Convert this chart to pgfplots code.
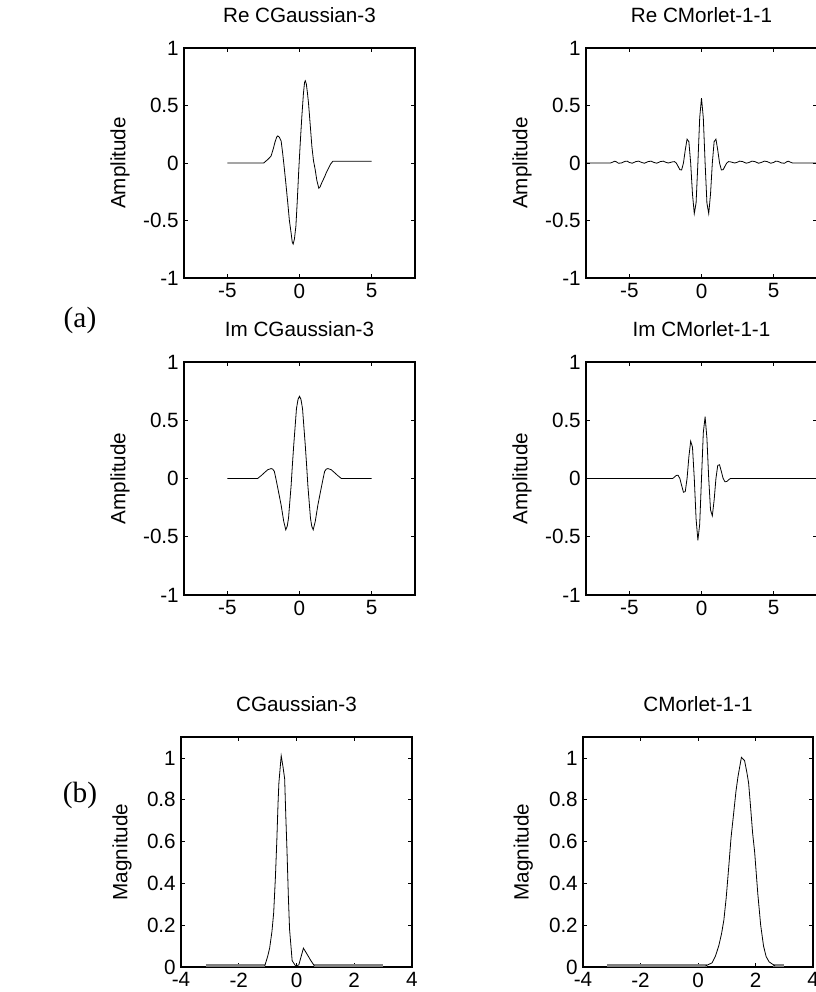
\documentclass[border=0pt]{standalone}
\usepackage{fontspec}
\setmainfont{Liberation Sans}
\newfontfamily\timesfont{Liberation Serif}
\usepackage{pgfplots}
\pgfplotsset{compat=1.18}

\pgfplotsset{
  mystyle/.style={
    scale only axis, width=173.25pt, height=172.5pt,
    axis line style={line width=0.8pt},
    every tick/.style={black, line width=0.6pt},
    major tick length=3pt,
    tick align=inside, tick pos=both,
    /pgf/number format/assume math mode=true,
    yticklabel style={inner sep=0pt, anchor=east, xshift=-3.75pt},
    xticklabel style={inner sep=0pt, anchor=north, yshift=-4pt},
    title style={at={(0.5,1)}, anchor=base, yshift=12.75pt, inner sep=0pt},
  },
  wave/.style={mystyle, xmin=-8, xmax=8, ymin=-1, ymax=1,
    xtick={-5,0,5}, xticklabels={-5,0,5},
    ytick={-1,-0.5,0,0.5,1}, yticklabels={-1,-0.5,0,0.5,1},
    ylabel={Amplitude},
    ylabel style={at={(axis description cs:-0.277,0.5)}, anchor=center}},
  mag/.style={mystyle, xmin=-4, xmax=4, ymin=0, ymax=1.1,
    xtick={-4,-2,0,2,4}, xticklabels={-4,-2,0,2,4},
    ytick={0,0.2,0.4,0.6,0.8,1}, yticklabels={0,0.2,0.4,0.6,0.8,1},
    ylabel={Magnitude}},
  curve/.style={black, no marks, line width=0.6pt},
  base/.style={gray, no marks, line width=1.6pt},
}

\begin{document}
\fontsize{15.5}{18}\selectfont
\begin{tikzpicture}[font=\fontsize{15.5}{18}\selectfont]
\path[use as bounding box] (0,0) rectangle (612pt,744pt);

% (a) Re CGaussian-3
\begin{axis}[wave, at={(138pt,535.5pt)}, anchor=south west, height=172.5pt, title={Re CGaussian-3}]
\addplot[curve] coordinates {(-5,0) (-2.48,0) (-2.2,0.03) (-1.97,0.06) (-1.8,0.13) (-1.69,0.185) (-1.58,0.225) (-1.5,0.235) (-1.4,0.225) (-1.27,0.19) (-1.18,0.1) (-1.09,0) (-0.95,-0.17) (-0.81,-0.35) (-0.7,-0.5) (-0.58,-0.61) (-0.5,-0.69) (-0.44,-0.705) (-0.35,-0.66) (-0.25,-0.55) (-0.15,-0.32) (-0.05,-0.06) (0.05,0.17) (0.16,0.40) (0.27,0.6) (0.35,0.7) (0.4,0.715) (0.47,0.69) (0.55,0.61) (0.625,0.52) (0.75,0.32) (0.86,0.14) (0.97,0.02) (1.09,-0.06) (1.2,-0.15) (1.34,-0.22) (1.42,-0.21) (1.55,-0.17) (1.74,-0.12) (1.87,-0.08) (2.01,-0.046) (2.15,-0.01) (2.31,0.015) (5,0.015)};
\end{axis}

% Re CMorlet-1-1
\begin{axis}[wave, at={(439.5pt,535.5pt)}, anchor=south west, height=172.5pt, title={Re CMorlet-1-1}]
\addplot[curve] coordinates {(-8,0) (-6.3,0) (-6.1,0.01) (-6.0,0.016) (-5.9,0.01) (-5.75,-0.002) (-5.55,0) (-5.3,0.014) (-5.15,0.016) (-5.0,0.005) (-4.8,-0.002) (-4.55,0.012) (-4.35,0.016) (-4.15,0.005) (-3.95,-0.002) (-3.7,0.012) (-3.5,0.016) (-3.3,0.005) (-3.1,-0.002) (-2.85,0.012) (-2.65,0.016) (-2.45,0.005) (-2.3,0) (-2,0.01) (-1.875,0.012) (-1.75,0) (-1.625,-0.028) (-1.5,-0.059) (-1.375,-0.06) (-1.25,0) (-1.125,0.1125) (-1,0.2076) (-0.875,0.185) (-0.75,0) (-0.625,-0.27) (-0.5,-0.44) (-0.375,-0.347) (-0.25,0) (-0.125,0.393) (0,0.564) (0.125,0.393) (0.25,0) (0.375,-0.347) (0.5,-0.44) (0.625,-0.27) (0.75,0) (0.875,0.185) (1,0.2076) (1.125,0.1125) (1.25,0) (1.375,-0.06) (1.5,-0.059) (1.625,-0.028) (1.75,0) (1.875,0.012) (2,0.01) (2.3,0) (2.45,0.005) (2.65,0.016) (2.85,0.012) (3.1,-0.002) (3.3,0.005) (3.5,0.016) (3.7,0.012) (3.95,-0.002) (4.15,0.005) (4.35,0.016) (4.55,0.012) (4.8,-0.002) (5.0,0.005) (5.15,0.016) (5.3,0.014) (5.55,0) (5.75,-0.002) (5.9,0.01) (6.0,0.016) (6.1,0.01) (6.3,0) (8,0)};
\end{axis}

% Im CGaussian-3
\begin{axis}[wave, at={(138pt,297.75pt)}, anchor=south west, height=174.75pt, title={Im CGaussian-3}]
\addplot[curve] coordinates {(-5,0) (-2.9,0) (-2.65,0.025) (-2.43,0.05) (-2.2,0.075) (-1.97,0.085) (-1.85,0.08) (-1.74,0.06) (-1.62,-0.01) (-1.5,-0.085) (-1.38,-0.16) (-1.27,-0.23) (-1.09,-0.37) (-0.95,-0.44) (-0.85,-0.41) (-0.76,-0.34) (-0.67,-0.2) (-0.58,-0.06) (-0.49,0.12) (-0.4,0.285) (-0.3,0.45) (-0.21,0.6) (-0.1,0.68) (0,0.705) (0.1,0.68) (0.21,0.6) (0.3,0.45) (0.4,0.285) (0.49,0.12) (0.58,-0.06) (0.67,-0.2) (0.76,-0.34) (0.85,-0.41) (0.95,-0.44) (1.09,-0.37) (1.27,-0.23) (1.38,-0.16) (1.5,-0.085) (1.62,-0.01) (1.74,0.06) (1.85,0.08) (1.97,0.085) (2.2,0.075) (2.43,0.05) (2.65,0.025) (2.9,0) (5,0)};
\end{axis}

% Im CMorlet-1-1
\begin{axis}[wave, at={(439.5pt,297.75pt)}, anchor=south west, height=174.75pt, title={Im CMorlet-1-1}]
\addplot[curve] coordinates {(-8,0) (-2.125,0) (-2,0) (-1.875,0.012) (-1.75,0.026) (-1.625,0.028) (-1.5,0) (-1.375,-0.06) (-1.25,-0.118) (-1.125,-0.1125) (-1,0) (-0.875,0.185) (-0.75,0.32) (-0.625,0.27) (-0.5,0) (-0.375,-0.347) (-0.25,-0.53) (-0.125,-0.393) (0,0) (0.125,0.393) (0.25,0.53) (0.375,0.347) (0.5,0) (0.625,-0.27) (0.75,-0.32) (0.875,-0.185) (1,0) (1.125,0.1125) (1.25,0.118) (1.375,0.06) (1.5,0) (1.625,-0.028) (1.75,-0.026) (1.875,-0.012) (2,0) (8,0)};
\end{axis}

% (b) CGaussian-3 magnitude
\begin{axis}[mag, at={(135.75pt,18.75pt)}, anchor=south west, title={CGaussian-3},
  ylabel style={at={(axis description cs:-0.255,0.5)}, anchor=center}]
\addplot[base] coordinates {(-3.14,0.007) (-1.1,0.007)};
\addplot[base] coordinates {(0.62,0.007) (2.98,0.007)};
\addplot[curve] coordinates {(-1.1,0.005) (-1.0,0.05) (-0.93,0.09) (-0.85,0.17) (-0.79,0.26) (-0.73,0.43) (-0.68,0.61) (-0.64,0.78) (-0.61,0.88) (-0.53,1.01) (-0.47,0.96) (-0.41,0.9) (-0.37,0.72) (-0.33,0.56) (-0.28,0.33) (-0.24,0.18) (-0.15,0.03) (-0.03,0.005) (0.08,0.01) (0.24,0.09) (0.35,0.065) (0.5,0.03) (0.62,0.005)};
\end{axis}

% CMorlet-1-1 magnitude
\begin{axis}[mag, at={(437.25pt,18.75pt)}, anchor=south west, width=172.5pt, title={CMorlet-1-1},
  ylabel style={at={(axis description cs:-0.26,0.5)}, anchor=center}]
\addplot[base] coordinates {(-3.17,0.007) (0.3,0.007)};
\addplot[base] coordinates {(2.6,0.007) (2.98,0.007)};
\addplot[curve] coordinates {(0.26,0.005) (0.49,0.02) (0.6,0.05) (0.72,0.1) (0.82,0.16) (0.9,0.225) (0.98,0.33) (1.07,0.48) (1.15,0.62) (1.24,0.735) (1.32,0.84) (1.39,0.91) (1.51,1.003) (1.62,0.987) (1.7,0.93) (1.76,0.88) (1.82,0.78) (1.9,0.64) (1.97,0.55) (2.08,0.35) (2.18,0.2) (2.28,0.1) (2.37,0.05) (2.47,0.025) (2.68,0.005)};
\end{axis}

\node[font=\fontsize{22}{26}\timesfont] at (60pt,504pt) {(a)};
\node[font=\fontsize{22}{26}\timesfont] at (60pt,147.75pt) {(b)};
\end{tikzpicture}
\end{document}
